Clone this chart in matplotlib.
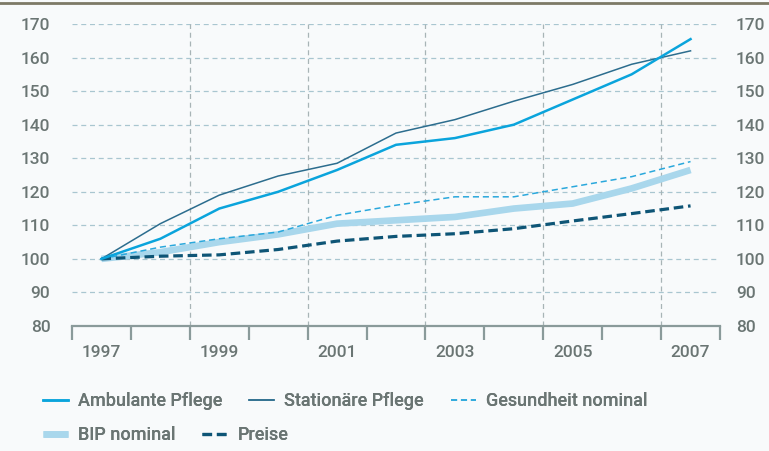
import matplotlib
matplotlib.use("Agg")
import matplotlib.pyplot as plt
from matplotlib.lines import Line2D
import matplotlib.transforms as mtransforms

plt.rcParams['font.family'] = ['Roboto', 'DejaVu Sans']
plt.rcParams['font.weight'] = 'medium'

years = [1997, 1998, 1999, 2000, 2001, 2002, 2003, 2004, 2005, 2006, 2007]
ambulante = [100, 106, 115, 120, 126.5, 134, 136, 140, 147.5, 155, 165.5]
stationaer = [100, 110.5, 119, 124.7, 128.5, 137.5, 141.5, 147, 152, 158, 162]
gesundheit = [100, 103.5, 106, 108, 113, 116, 118.5, 118.5, 121.5, 124.5, 129]
bip = [100, 102, 105, 107.3, 110.5, 111.5, 112.5, 115, 116.5, 121, 126.5]
preise = [100, 100.8, 101.2, 102.8, 105.3, 106.7, 107.5, 109, 111.3, 113.5, 115.8]
year_labels = ['1997', '1999', '2001', '2003', '2005', '2007']
yticks = [80, 90, 100, 110, 120, 130, 140, 150, 160, 170]

bg = '#f8fafb'
txt = '#6a7573'
axc = '#8a9a9a'
gridc = '#a9c6d0'
fs = 12.5
lfs = 13

fig = plt.figure(figsize=(7.69, 4.51), dpi=100, facecolor=bg)
ax = fig.add_axes([72/769, 1-326/451, (720-72)/769, (326-24)/451])
ax.set_facecolor(bg)

ax.set_xlim(1996.5, 2007.5)
ax.set_ylim(80, 170)

for v in yticks[1:]:
    ax.axhline(v, color=gridc, lw=0.9, ls=(0, (4, 3)), zorder=1)
for xv in [1998.5, 2000.5, 2002.5, 2004.5, 2006.5]:
    ax.axvline(xv, color='#a8b4b6', lw=0.9, ls=(0, (4, 3)), zorder=1)

ax.plot(years, bip, color='#a9d7ec', lw=4.8, solid_capstyle='butt', zorder=2, label='BIP nominal')
ax.plot(years, gesundheit, color='#2aa8dc', lw=1.1, ls=(0, (4, 2.5)), zorder=3, label='Gesundheit nominal')
ax.plot(years, preise, color='#0e5576', lw=2.3, ls=(0, (3, 1.5)), zorder=3, label='Preise')
ax.plot(years, stationaer, color='#2c6d8e', lw=1.1, zorder=4, label='Stationäre Pflege')
ax.plot(years, ambulante, color='#0aa4dc', lw=1.8, zorder=5, label='Ambulante Pflege')

for s in ['top', 'left', 'right']:
    ax.spines[s].set_visible(False)
ax.spines['bottom'].set_color(axc)
ax.spines['bottom'].set_linewidth(1.6)

ax.set_xticks([y + 0.5 for y in range(1996, 2008)])
ax.set_xticklabels([])
ax.tick_params(axis='x', which='major', length=10, width=1.6, color=axc)
ax.set_xticks([int(y) for y in year_labels], minor=True)
ax.set_xticklabels(year_labels, minor=True)
ax.tick_params(axis='x', which='minor', length=0, pad=14, labelsize=fs, labelcolor=txt)

ax.set_yticks(yticks)
ax.set_yticklabels([str(v) for v in yticks])
ax.tick_params(axis='y', which='both', left=False, right=False, pad=12, labelsize=fs,
               labelcolor=txt, labelleft=True, labelright=True)
off = mtransforms.ScaledTranslation(-4/72, 0, fig.dpi_scale_trans)
for t in ax.yaxis.get_major_ticks():
    t.label2.set_transform(t.label2.get_transform() + off)

h = {l.get_label(): l for l in ax.get_lines()}
rows = [(['Ambulante Pflege', 'Stationäre Pflege', 'Gesundheit nominal'], 401),
        (['BIP nominal', 'Preise'], 435)]
for names, yc in rows:
    leg = fig.legend([h[k] for k in names], names, ncol=len(names), loc='center left',
                     bbox_to_anchor=(43/769, 1-yc/451), frameon=False,
                     borderaxespad=0, borderpad=0,
                     fontsize=lfs, handlelength=1.38, handletextpad=0.55,
                     columnspacing=1.5, labelcolor=txt)
    fig.add_artist(leg)

fig.add_artist(Line2D([0, 1], [1-3/451, 1-3/451], transform=fig.transFigure,
                      color='#7d7a66', lw=2))

fig.savefig('out.png', dpi=100, facecolor=bg)
